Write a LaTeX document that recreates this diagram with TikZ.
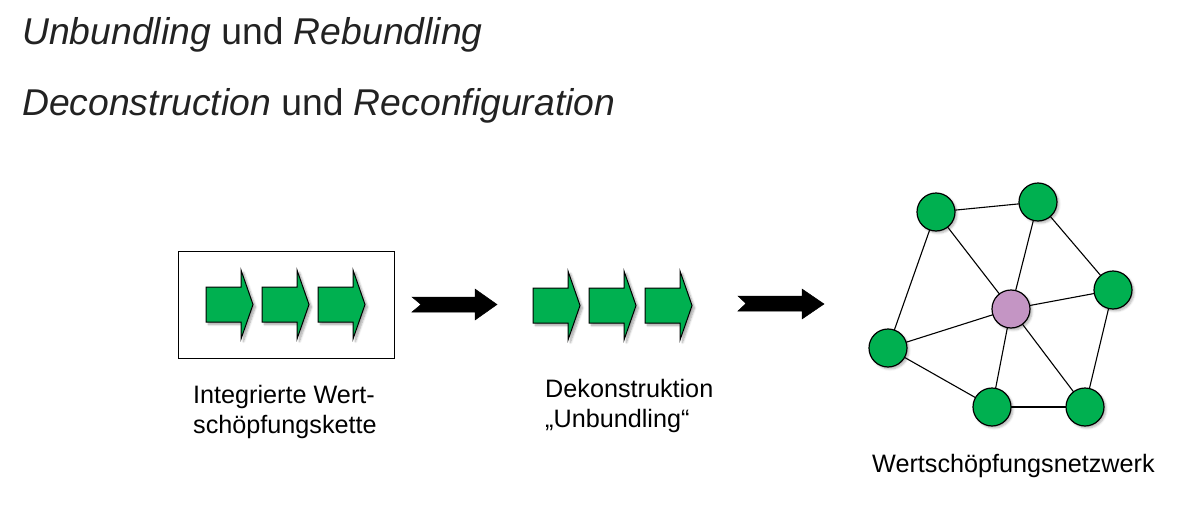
\documentclass[tikz,border=0pt]{standalone}
\usepackage{fontspec}
\setmainfont{Liberation Sans}
\usetikzlibrary{shadows.blur}
\definecolor{grn}{HTML}{00B050}
\definecolor{purp}{HTML}{C495C4}
\definecolor{txt}{HTML}{222222}
\tikzset{
  garrow/.style={fill=grn, draw=black, line width=1pt, line join=miter,
    blur shadow={shadow xshift=2.5pt, shadow yshift=-2.5pt, shadow blur steps=6, shadow opacity=35}},
  barrow/.style={fill=black, draw=black, line width=0.5pt},
  netnode/.style={circle, draw=black, line width=1.2pt, minimum size=38pt, inner sep=0pt,
    blur shadow={shadow xshift=2pt, shadow yshift=-2pt, shadow blur steps=5, shadow opacity=30}},
  gnode/.style={netnode, fill=grn},
  pnode/.style={netnode, fill=purp},
  edge/.style={draw=black, line width=1.1pt},
  title/.style={anchor=base west, inner sep=0pt, text=txt, font=\fontsize{37.3}{44}\selectfont},
  label/.style={anchor=base west, inner sep=0pt, text=black, font=\fontsize{25.2}{30}\selectfont, align=left},
}
\newcommand\greenarrow[2]{%
  \path[garrow] (#1,#2) -- ++(35,0) -- ++(0,-17) -- ++(12,34.5) -- ++(-12,34.5) -- ++(0,-17) -- ++(-35,0) -- cycle;}
\begin{document}
\begin{tikzpicture}[x=1pt,y=-1pt]
\useasboundingbox (0,0) rectangle (1195,522);
% titles
\node[title] (t1) at (22,44) {\textit{Unbundling} und \textit{Rebundling}};
\node[title] (t2) at (22,115) {\textit{Deconstruction} und \textit{Reconfiguration}};
% box with integrated chain
\node[draw=black, line width=1pt, minimum width=216pt, minimum height=107pt, inner sep=0pt] (box) at (286,304.5) {};
\greenarrow{206}{287}
\greenarrow{262}{287}
\greenarrow{318}{287}
% black arrows
\path[barrow] (412,297) -- (475,297) -- (475,289) -- (497,304.5) -- (475,320) -- (475,312) -- (412,312) -- (421,304.5) -- cycle;
\greenarrow{533}{288}
\greenarrow{589}{288}
\greenarrow{645}{288}
\path[barrow] (738,296) -- (802,296) -- (802,289) -- (824,304) -- (802,319) -- (802,311) -- (738,311) -- (746,303.5) -- cycle;
% labels
\node[label] (l1) at (193,433) {Integrierte Wert-\\schöpfungskette};
\node[label] (l2) at (545,427) {Dekonstruktion\\„Unbundling“};
\node[label] (l3) at (872,472) {Wertschöpfungsnetzwerk};
% network
\coordinate (pA) at (936,212);
\coordinate (pB) at (1038,202);
\coordinate (pC) at (1113,290);
\coordinate (pD) at (1011,309);
\coordinate (pE) at (888,348);
\coordinate (pF) at (992,407);
\coordinate (pG) at (1085,407);
\foreach \u/\v in {A/B,A/E,A/D,B/D,B/C,C/D,C/G,D/E,D/F,D/G,E/F,F/G}
  \draw[edge] (p\u) -- (p\v);
\node[gnode] (A) at (pA) {};
\node[gnode] (B) at (pB) {};
\node[gnode] (C) at (pC) {};
\node[pnode] (D) at (pD) {};
\node[gnode] (E) at (pE) {};
\node[gnode] (F) at (pF) {};
\node[gnode] (G) at (pG) {};
\end{tikzpicture}
\end{document}
